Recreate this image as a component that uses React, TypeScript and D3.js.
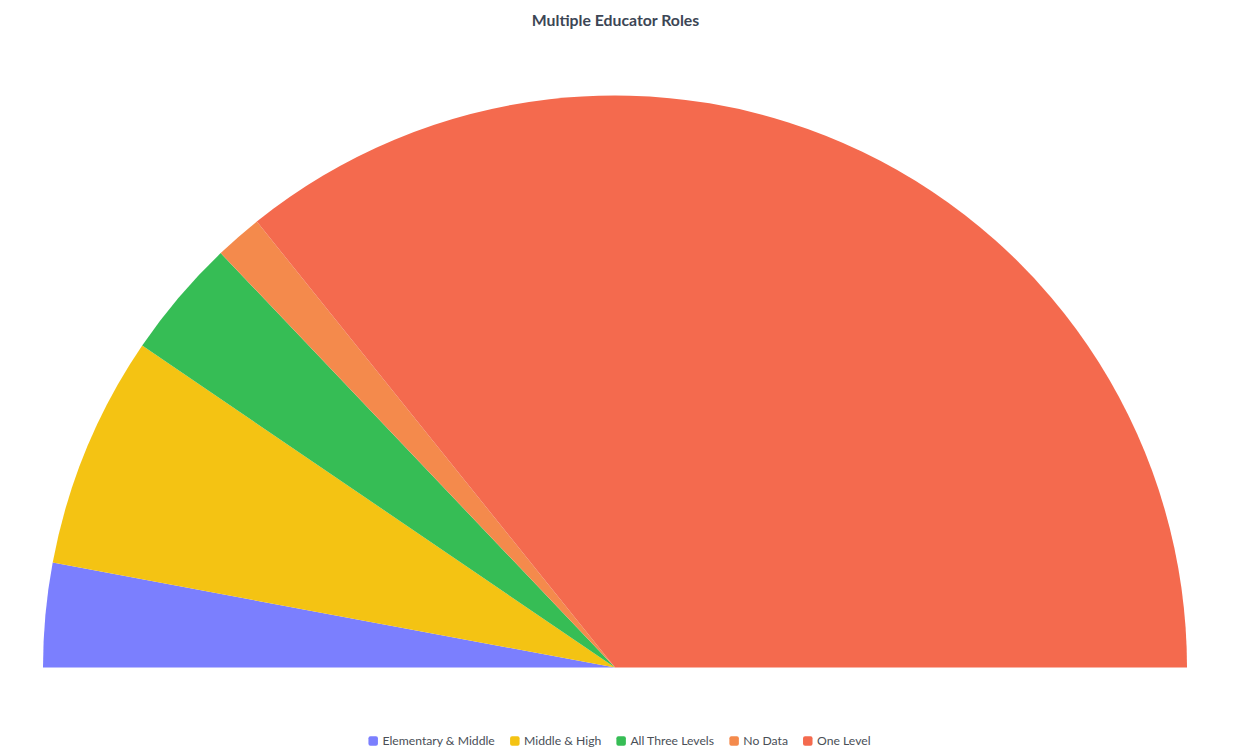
import React from "react";
import * as d3 from "d3";

const categories = ["Elementary & Middle", "Middle & High", "All Three Levels", "No Data", "One Level"];
const values = [5.87, 13.16, 6.76, 2.67, 71.54];
const colors = ["#7b7ffe", "#f4c313", "#36bd55", "#f48a4c", "#f46a4e"];

export default function App() {
  const W = 1248, H = 750;
  const cx = 615, cy = 667.5, r = 572;
  const pie = d3.pie<number>().sort(null).startAngle(-Math.PI / 2).endAngle(Math.PI / 2);
  const arcs = pie(values);
  const arc = d3.arc<d3.PieArcDatum<number>>().innerRadius(0).outerRadius(r);

  const fs = 12.2;
  const font = `${fs}px Lato`;
  const measure = (t: string) => {
    const c = document.createElement("canvas").getContext("2d")!;
    c.font = font;
    return c.measureText(t).width;
  };
  const marker = 9.5, gapM = 4.5, gapItem = 15;
  const widths = categories.map((c) => marker + gapM + measure(c));
  const total = widths.reduce((a, b) => a + b, 0) + gapItem * (categories.length - 1);
  let x0 = 619.5 - total / 2;
  const legendItems = categories.map((c, i) => {
    const x = x0;
    x0 += widths[i] + gapItem;
    return { c, x, color: colors[i] };
  });

  return (
    <svg width={W} height={H} style={{ position: "absolute", left: 0, top: 0 }}>
      <rect width={W} height={H} fill="#fff" />
      <text x={615.5} y={25.5} textAnchor="middle" fontFamily="Lato" fontWeight="bold" fontSize={15.8} fill="#3c4655">
        Multiple Educator Roles
      </text>
      <g transform={`translate(${cx},${cy})`}>
        {arcs.map((a, i) => (
          <path key={i} d={arc(a)!} fill={colors[i]} />
        ))}
      </g>
      <g>
        {legendItems.map((it, i) => (
          <g key={i}>
            <rect x={it.x} y={736.3} width={marker} height={marker} rx={2} fill={it.color} />
            <text x={it.x + marker + gapM} y={745} fontFamily="Lato" fontSize={fs} fill="#4a4f57">
              {it.c}
            </text>
          </g>
        ))}
      </g>
    </svg>
  );
}
